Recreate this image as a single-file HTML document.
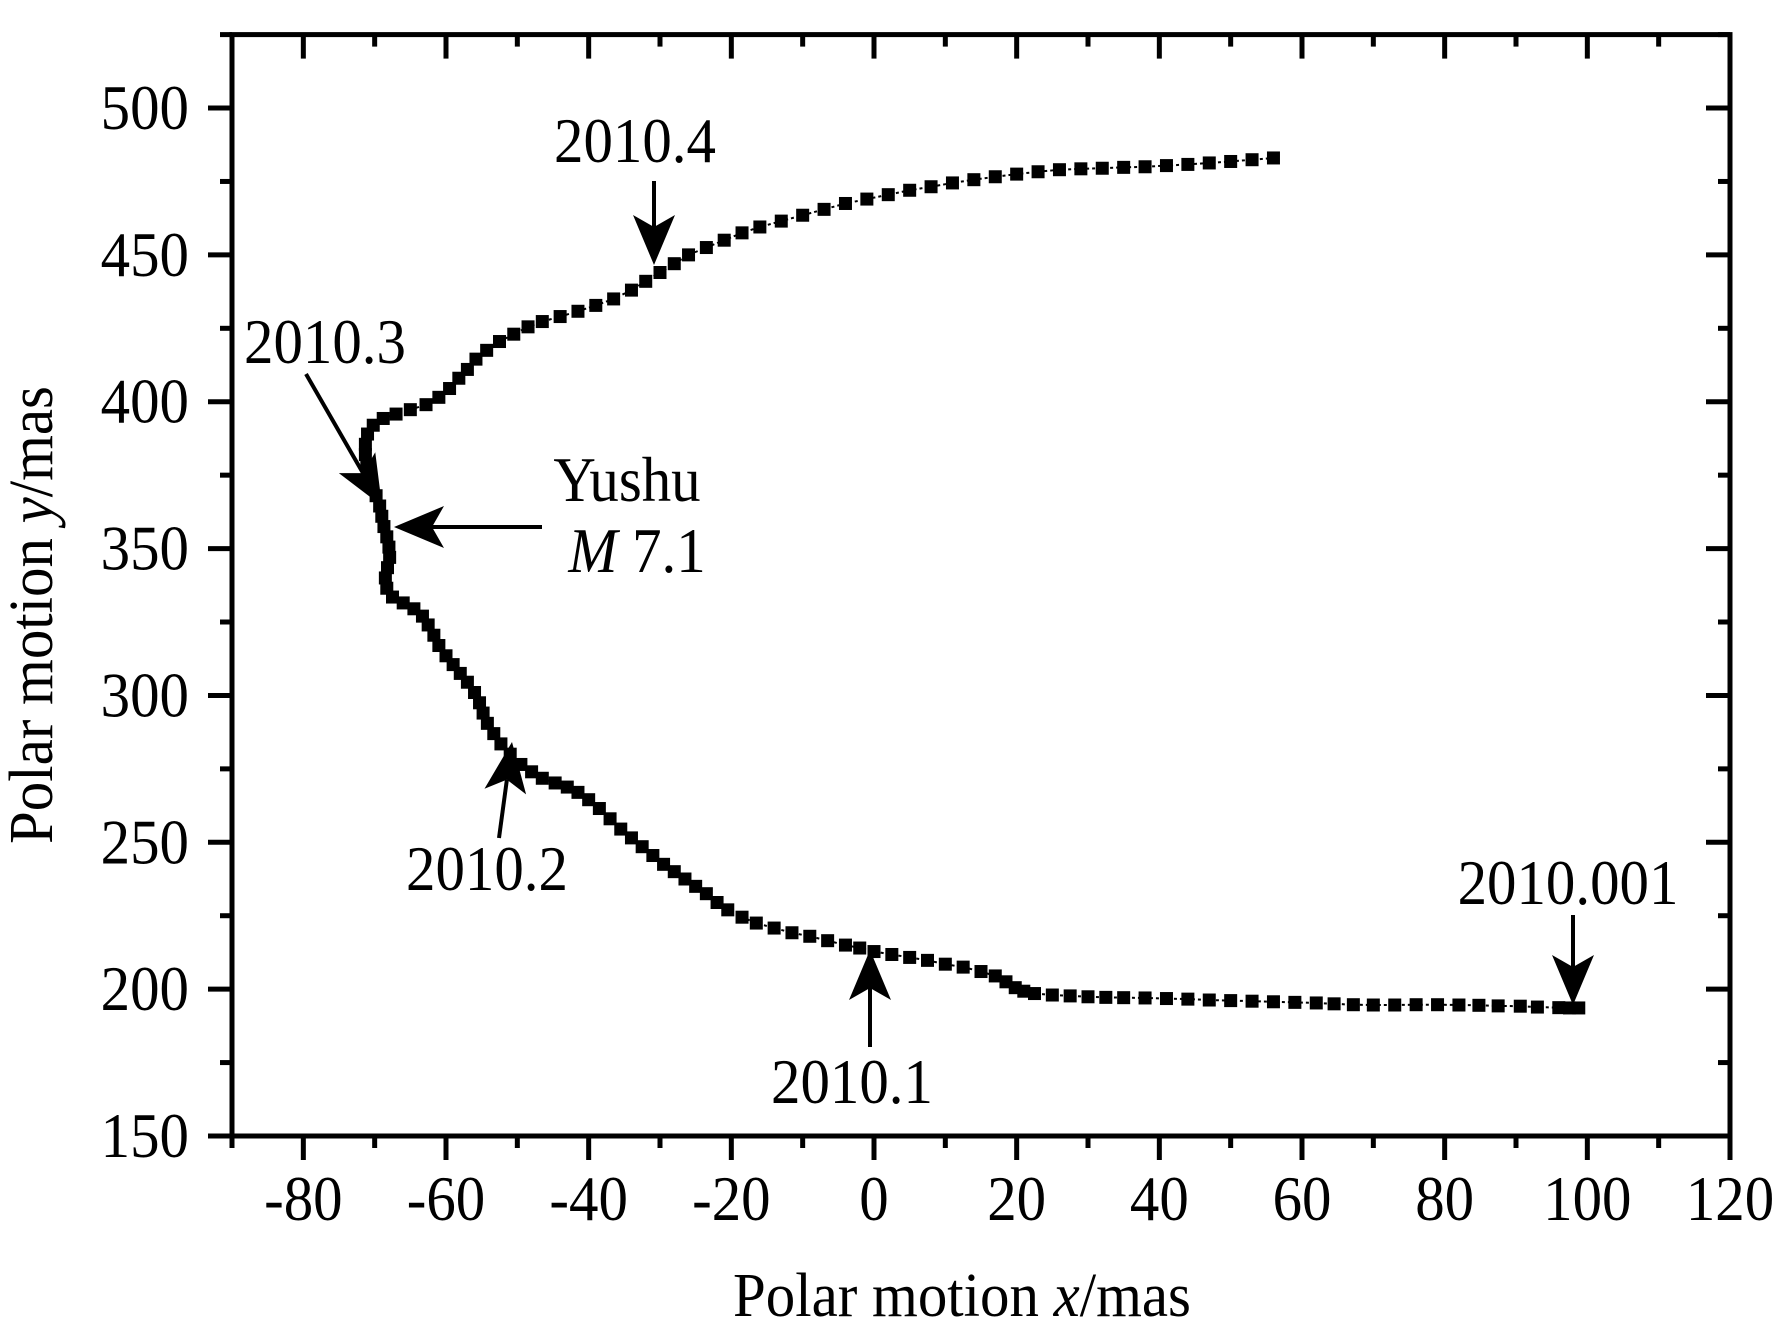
<!DOCTYPE html>
<html><head><meta charset="utf-8">
<style>
html,body{margin:0;padding:0;background:#fff;}
svg{display:block;font-family:"Liberation Serif",serif;}
</style></head>
<body>
<svg id="chart" width="1777" height="1338" viewBox="0 0 1777 1338" xmlns="http://www.w3.org/2000/svg">
<rect width="1777" height="1338" fill="#fff"/>
<g id="axes"></g>
<g id="series"></g>
<g id="annotations"></g>
<text transform="translate(962,1316) scale(0.95,1)" font-size="62" text-anchor="middle">Polar motion <tspan font-style="italic">x</tspan>/mas</text>
<text transform="translate(52,615) rotate(-90) scale(0.95,1)" font-size="62" text-anchor="middle">Polar motion <tspan font-style="italic">y</tspan>/mas</text>
</svg>
<script>
const xTicks = [-80,-60,-40,-20,0,20,40,60,80,100,120];
const xMinor = [-90,-70,-50,-30,-10,10,30,50,70,90,110];
const yTicks = [150,200,250,300,350,400,450,500];
const yMinor = [175,225,275,325,375,425,475,525];
const polarX = [98.8,97.5,96,93,90.6,87.5,84.8,82,79,76,73,70,67.2,64.5,62,59,56,53,50,47,44,41,38,35,32.5,30,27.5,25,22.5,21,19.8,18.5,17,15,12.5,10,7.5,5,2.5,0,-2,-4,-6.5,-9,-11.5,-14,-16.5,-18.5,-20.5,-22,-23.5,-25,-26.5,-28,-29.5,-31,-32.5,-34,-35.5,-37,-38.5,-40,-41.5,-43,-44.7,-46.5,-48,-49.5,-51,-52.3,-53.3,-54.2,-54.8,-55.3,-56,-57,-58,-59,-60,-61,-61.7,-62.5,-63.3,-64.5,-66,-67.5,-68.3,-68.5,-68.2,-67.9,-68,-68.3,-68.7,-69,-69.3,-69.8,-70.4,-70.8,-71.1,-71.3,-71.3,-71,-70.2,-68.8,-67,-65,-62.8,-61,-59.5,-58.2,-57,-55.8,-54.3,-52.5,-50.5,-48.5,-46.5,-44,-41.5,-39,-36.5,-34,-32,-30,-28,-26,-23.5,-21,-18.5,-16,-13,-10,-7,-4,-1,2,5,8,11,14,17,20,23,26,29,32,35,38,41,44,47,50,53,56];
const polarY = [193.6,193.6,193.7,193.9,194.2,194.3,194.5,194.6,194.7,194.7,194.6,194.6,194.7,195,195.3,195.5,195.7,195.9,196.1,196.3,196.6,196.8,197,197.1,197.2,197.4,197.7,198,198.5,199.3,200.5,202.5,204.5,206,207.5,208.5,209.8,210.8,211.8,212.8,214,215,216.5,218,219.2,220.8,222.5,224.5,227,229.5,232.5,235,237.5,240,242.5,245.5,248.5,251.5,254.5,258,261.5,264.5,267,268.8,270.2,271.8,274,276.5,280,283.5,287,290.5,294,297.5,301,304.5,307.5,310.5,313.5,317,320.5,324,327,329.5,331.5,333.5,336.5,340,343.5,347,350.5,354,357.5,361,364.5,368,371.5,375,378.5,382,385.5,389,392,394.3,395.8,397.3,399,401.5,404.5,408,411,414.5,417.5,420.5,423,425.5,427.3,429,430.8,432.8,435,438,441,444,447,450,452.5,455,457.5,459.5,461.5,463.5,465.5,467.5,469,470.5,472,473.2,474.5,475.6,476.6,477.5,478.3,479,479.3,479.5,479.8,480,480.4,480.8,481.3,481.8,482.4,483];

const NS = "http://www.w3.org/2000/svg";
const L = 232, R = 1730, T = 34.6, B = 1136;
const X = v => L + (v + 90) * (R - L) / 210;
const Y = v => B - (v - 150) * (B - T) / 375;
function mk(tag, attrs, parent) {
  const e = document.createElementNS(NS, tag);
  for (const k in attrs) e.setAttribute(k, attrs[k]);
  parent.appendChild(e);
  return e;
}
const axes = document.getElementById('axes');
const frame = mk('rect', {x:L, y:T, width:R-L, height:B-T, fill:'none', stroke:'#000', 'stroke-width':5}, axes);


function xt(v, len) {
  const a = mk('line', {x1:X(v), x2:X(v), y1:B, y2:B+len, stroke:'#000', 'stroke-width':5}, axes);
  
  
  const b = mk('line', {x1:X(v), x2:X(v), y1:T, y2:T+len, stroke:'#000', 'stroke-width':5}, axes);
  
  
}
function yt(v, len) {
  const a = mk('line', {x1:L-len, x2:L, y1:Y(v), y2:Y(v), stroke:'#000', 'stroke-width':5}, axes);
  
  
  const b = mk('line', {x1:R-len, x2:R, y1:Y(v), y2:Y(v), stroke:'#000', 'stroke-width':5}, axes);
  
  
}
xTicks.forEach(v => {
  xt(v, 24);
  const t = mk('text', {transform:'translate(' + X(v) + ',1220) scale(0.92,1)', 'font-size':64, 'text-anchor':'middle'}, axes);
  
  
  t.textContent = v;
});
xMinor.forEach(v => xt(v, 12));
yTicks.forEach(v => {
  yt(v, 24);
  const t = mk('text', {transform:'translate(189,' + (Y(v)+21) + ') scale(0.92,1)', 'font-size':64, 'text-anchor':'end'}, axes);
  
  
  t.textContent = v;
});
yMinor.forEach(v => yt(v, 12));

const series = document.getElementById('series');
const pts = polarX.map((v, i) => X(v) + ',' + Y(polarY[i])).join(' ');
const line = mk('polyline', {points:pts, fill:'none', stroke:'#000', 'stroke-width':2, 'stroke-dasharray':'3,3'}, series);


polarX.forEach((v, i) => {
  const s = mk('rect', {x:X(v)-6.5, y:Y(polarY[i])-6.5, width:13, height:13, fill:'#000'}, series);
  
  
});

const ann = document.getElementById('annotations');
function arrow(x1, y1, x2, y2, name) {
  const g = mk('g', {}, ann);
  
  
  const dx = x2-x1, dy = y2-y1, len = Math.hypot(dx, dy), ux = dx/len, uy = dy/len, px = -uy, py = ux;
  const hl = 50, hw = 21, notch = 38;
  mk('line', {x1:x1, y1:y1, x2:x2-ux*notch, y2:y2-uy*notch, stroke:'#000', 'stroke-width':4}, g);
  const p = [
    [x2, y2],
    [x2-ux*hl+px*hw, y2-uy*hl+py*hw],
    [x2-ux*notch, y2-uy*notch],
    [x2-ux*hl-px*hw, y2-uy*hl-py*hw]
  ].map(q => q.join(',')).join(' ');
  mk('polygon', {points:p, fill:'#000'}, g);
}
function label(x, y, txt, name, italicPrefix) {
  const t = mk('text', {transform:'translate(' + x + ',' + y + ') scale(0.92,1)', 'font-size':64, 'text-anchor':'middle'}, ann);
  
  
  if (italicPrefix) {
    const s = mk('tspan', {'font-style':'italic'}, t);
    s.textContent = italicPrefix;
    t.appendChild(document.createTextNode(txt));
  } else t.textContent = txt;
}
label(635, 162, '2010.4', 'label-2010-4');
arrow(654, 181, 654, 265, 'arrow-2010-4');
label(325, 363, '2010.3', 'label-2010-3');
arrow(306, 374, 382, 506, 'arrow-2010-3');
label(627, 501, 'Yushu', 'label-yushu');
label(637, 572, ' 7.1', 'label-magnitude', 'M');
arrow(542, 527, 394, 527, 'arrow-yushu');
label(487, 890, '2010.2', 'label-2010-2');
arrow(499, 838, 512, 742, 'arrow-2010-2');
label(852, 1103, '2010.1', 'label-2010-1');
arrow(870, 1047, 870, 950, 'arrow-2010-1');
label(1568, 904, '2010.001', 'label-2010-001');
arrow(1573, 915, 1573, 1005, 'arrow-2010-001');
</script>
</body></html>
